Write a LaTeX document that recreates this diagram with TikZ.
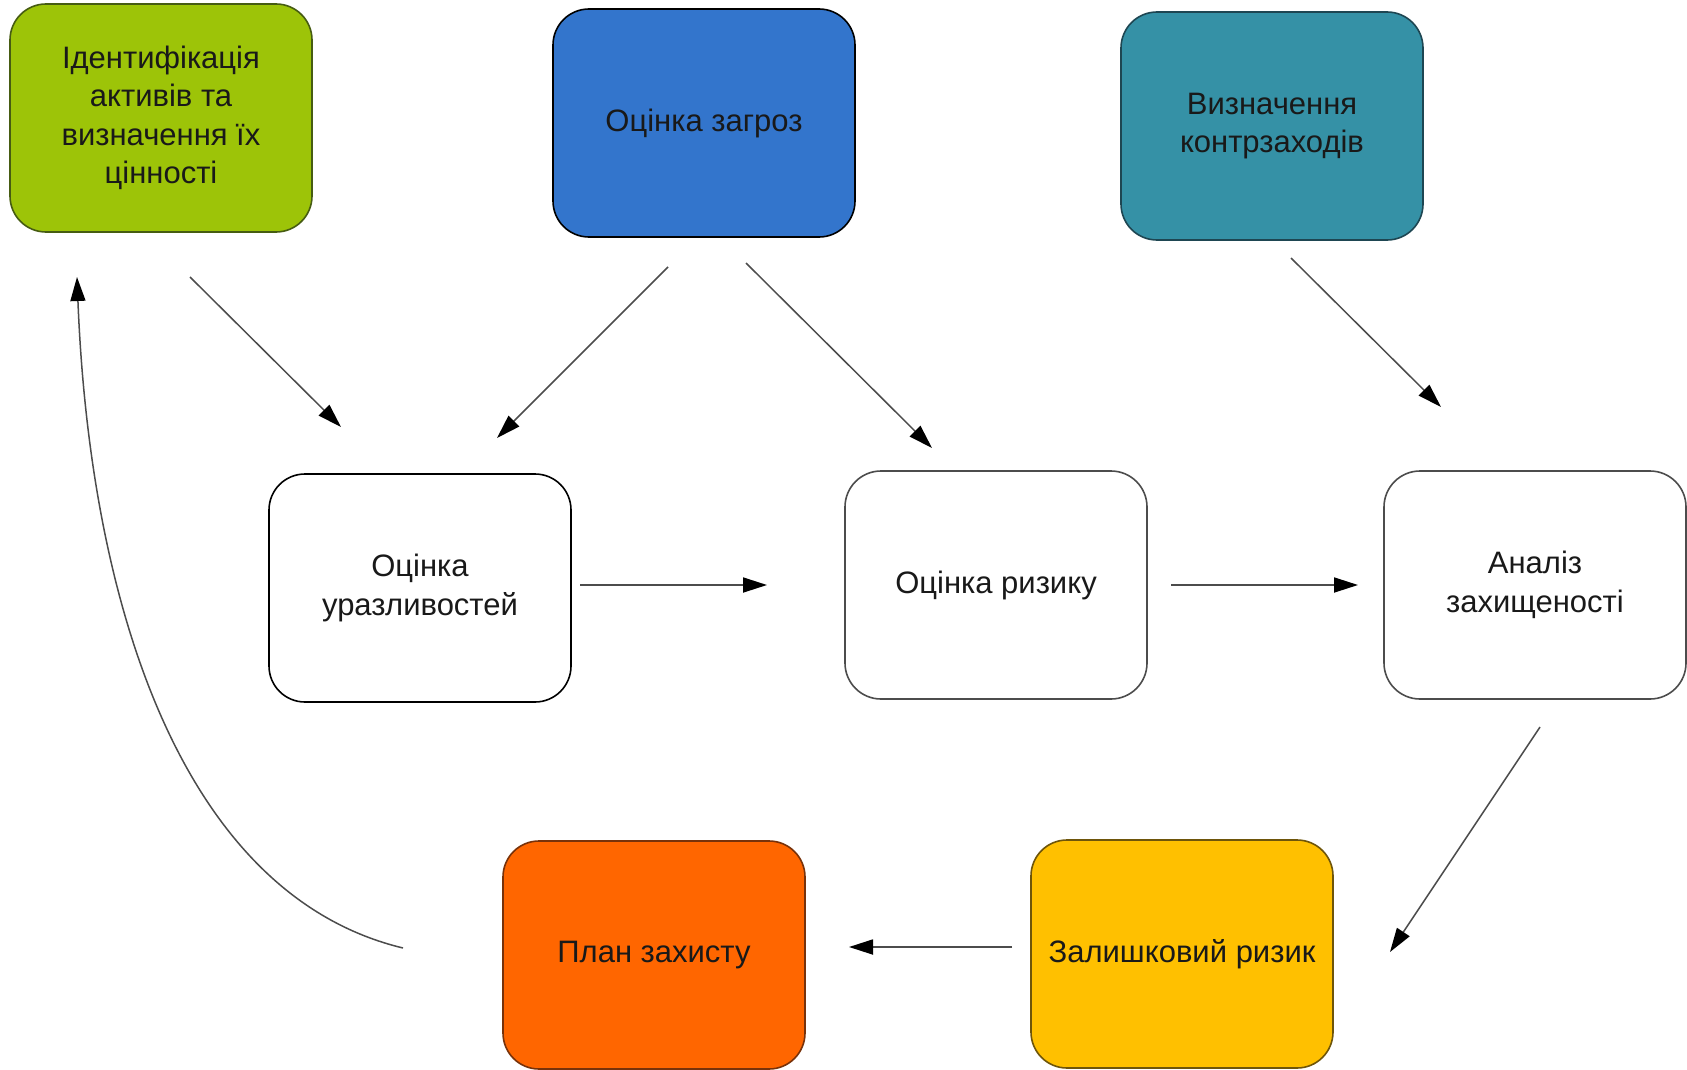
\documentclass[tikz,border=0pt]{standalone}
\usepackage{fontspec}
\setmainfont{Liberation Sans}
\usetikzlibrary{arrows.meta}
\definecolor{AssetGreen}{RGB}{157,196,8}
\definecolor{ThreatBlue}{RGB}{51,117,204}
\definecolor{CounterTeal}{RGB}{53,145,166}
\definecolor{PlanOrange}{RGB}{255,102,0}
\definecolor{ResidYellow}{RGB}{255,192,0}

\begin{document}
\begin{tikzpicture}[x=1pt,y=-1pt,
  box/.style={draw=black!85,line width=1.6pt,rounded corners=36pt,
    minimum width=302pt,minimum height=228pt,align=center,
    font=\fontsize{31}{38.5}\selectfont,text=black!90},
  arr/.style={-{Triangle[length=24pt,width=15pt,black]},line width=1.5pt,draw=black!70}]
\useasboundingbox (0,0) rectangle (1687,1070);

\node[box,fill=AssetGreen,draw={rgb,255:red,70;green,92;blue,18}] (ident) at (161,118)
  {Ідентифікація\\активів та\\визначення їх\\цінності};
\node[box,fill=ThreatBlue,draw=black] (threat) at (704,123) {Оцінка загроз};
\node[box,fill=CounterTeal,draw={rgb,255:red,30;green,70;blue,82}] (counter) at (1272,126)
  {Визначення\\контрзаходів};

\node[box,fill=white,draw=black] (vuln) at (420,588) {Оцінка\\уразливостей};
\node[box,fill=white,draw=black!70] (risk) at (996,585) {Оцінка ризику};
\node[box,fill=white,draw=black!70] (anal) at (1535,585) {Аналіз\\захищеності};

\node[box,fill=PlanOrange,draw={rgb,255:red,120;green,50;blue,10}] (plan) at (654,955) {План захисту};
\node[box,fill=ResidYellow,draw={rgb,255:red,110;green,85;blue,10}] (resid) at (1182,954) {Залишковий ризик};

\coordinate (identOut) at (190,277);
\coordinate (vulnInA) at (341,427);
\coordinate (threatOutA) at (668,267);
\coordinate (vulnInB) at (497,438);
\coordinate (threatOutB) at (746,263);
\coordinate (riskInA) at (932,448);
\coordinate (counterOut) at (1291,258);
\coordinate (analInA) at (1441,407);
\coordinate (vulnOut) at (580,585);
\coordinate (riskInB) at (767,585);
\coordinate (riskOut) at (1171,585);
\coordinate (analInB) at (1358,585);
\coordinate (analOut) at (1540,727);
\coordinate (residIn) at (1390,952);
\coordinate (residOut) at (1012,947);
\coordinate (planIn) at (849,947);
\coordinate (planOut) at (403,948);
\coordinate (identIn) at (77,277);

\draw[arr] (identOut) -- (vulnInA);
\draw[arr] (threatOutA) -- (vulnInB);
\draw[arr] (threatOutB) -- (riskInA);
\draw[arr] (counterOut) -- (analInA);
\draw[arr,line width=1.8pt] (vulnOut) -- (riskInB);
\draw[arr,line width=1.8pt] (riskOut) -- (analInB);
\draw[arr] (analOut) -- (residIn);
\draw[arr,line width=1.8pt] (residOut) -- (planIn);
\draw[arr] (planOut) .. controls (183,895) and (90,607) .. (identIn);

\end{tikzpicture}
\end{document}
